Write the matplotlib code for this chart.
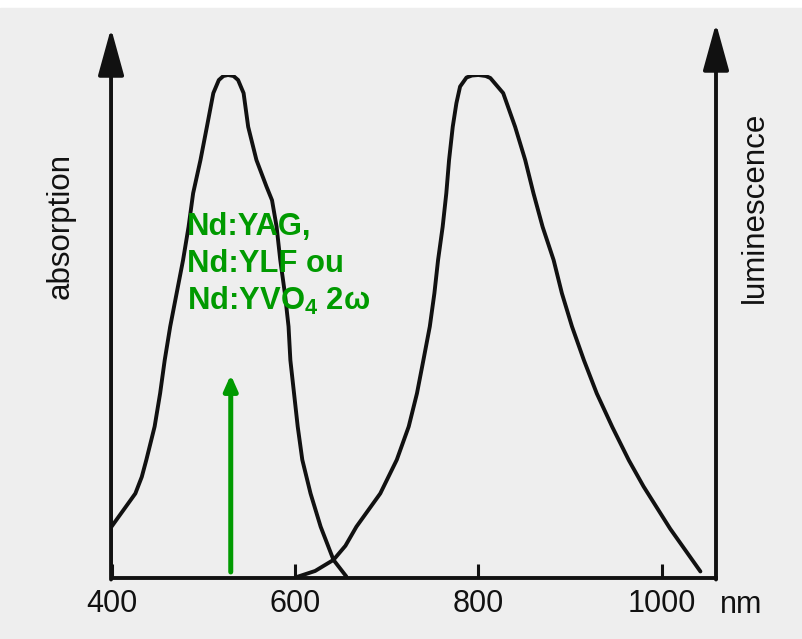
import matplotlib
matplotlib.use("Agg")
import matplotlib.pyplot as plt
from matplotlib.patches import Rectangle

# absorption spectrum (wavelength nm, relative intensity)
abs_wl = [400, 413, 426, 433, 438, 447, 453, 458, 464, 471, 478, 484, 489, 497,
          504, 511, 517, 522, 527, 533, 538, 544, 549, 558, 569, 575, 580, 584,
          589, 593, 595, 599, 603, 608, 617, 628, 642, 656]
abs_val = [0.102, 0.135, 0.168, 0.201, 0.235, 0.301, 0.367, 0.433, 0.500, 0.566,
           0.632, 0.698, 0.765, 0.831, 0.897, 0.964, 0.990, 0.998, 1.0, 0.998,
           0.990, 0.964, 0.897, 0.831, 0.778, 0.751, 0.698, 0.632, 0.566, 0.500,
           0.433, 0.367, 0.301, 0.235, 0.168, 0.102, 0.036, 0.003]

# luminescence spectrum
lum_wl = [602, 622, 642, 655, 667, 693, 711, 724, 733, 740, 747, 752, 756, 761,
          765, 768, 772, 776, 780, 787, 793, 800, 808, 813, 827, 840, 851, 860,
          870, 882, 891, 902, 915, 929, 946, 964, 980, 1009, 1042]
lum_val = [0.002, 0.014, 0.036, 0.064, 0.102, 0.168, 0.235, 0.301, 0.367, 0.433,
           0.500, 0.566, 0.632, 0.698, 0.765, 0.831, 0.897, 0.944, 0.977, 0.995,
           0.999, 1.0, 0.998, 0.994, 0.964, 0.897, 0.831, 0.765, 0.698, 0.632,
           0.566, 0.500, 0.433, 0.367, 0.300, 0.234, 0.182, 0.098, 0.013]

tick_pos = [400, 600, 800, 1000]
tick_labels = ["400", "600", "800", "1000"]

pump_wl = 530
pump_top = 0.404
pump_lines = ["Nd:YAG,", "Nd:YLF ou", "Nd:YVO$_4$ 2ω"]

plt.rcParams['font.family'] = ['Liberation Sans', 'DejaVu Sans']
plt.rcParams['mathtext.fontset'] = 'custom'
plt.rcParams['mathtext.rm'] = 'Liberation Sans:bold'
plt.rcParams['mathtext.it'] = 'Liberation Sans:bold'

fig = plt.figure(figsize=(8.02, 6.39), dpi=100)
fig.patch.set_facecolor('white')
fig.add_artist(Rectangle((0, 0), 1, 1 - 8 / 639, transform=fig.transFigure,
                         color='#eeeeee', zorder=-10))

ax = fig.add_axes([111.5 / 802, (639 - 578) / 639, (716 - 111.5) / 802, (578 - 75) / 639])
ax.set_facecolor('none')
ax.set_xlim(400, 1059)
ax.set_ylim(0, 1)

black = '#111111'
lw = 2.8
ax.plot(abs_wl, abs_val, color=black, lw=lw, solid_joinstyle='round', solid_capstyle='round')
ax.plot(lum_wl, lum_val, color=black, lw=lw, solid_joinstyle='round', solid_capstyle='round')

for s in ['top', 'left', 'right']:
    ax.spines[s].set_visible(False)
ax.spines['bottom'].set_linewidth(lw)
ax.spines['bottom'].set_color(black)

ax.set_yticks([])
ax.set_xticks(tick_pos)
ax.set_xticklabels(tick_labels, fontsize=22)
ax.tick_params(axis='x', direction='in', length=10, width=2.2, color=black, pad=8,
               labelcolor=black)

# vertical axes with arrow heads
arrow_style = dict(arrowstyle='-|>,head_length=29,head_width=8', mutation_scale=1,
                   color=black, lw=lw, shrinkA=0, shrinkB=0)
ax.annotate('', xy=(399.5, 1.093), xytext=(399.5, -0.003), arrowprops=arrow_style,
            annotation_clip=False)
ax.annotate('', xy=(1059, 1.103), xytext=(1059, -0.003), arrowprops=arrow_style,
            annotation_clip=False)

ax.text(353, 0.699, 'absorption', rotation=90, rotation_mode='anchor',
        ha='center', va='baseline', fontsize=22.5, color=black)
ax.text(1110, 0.736, 'luminescence', rotation=90, rotation_mode='anchor',
        ha='center', va='baseline', fontsize=22.5, color=black)
ax.text(1086, -0.0696, 'nm', ha='center', va='baseline', fontsize=22, color=black,
        clip_on=False)

# pump laser arrow and label
green = '#009a00'
ax.annotate('', xy=(pump_wl, pump_top), xytext=(pump_wl, 0.012),
            arrowprops=dict(arrowstyle='-|>,head_length=9,head_width=4',
                            mutation_scale=1, color=green, lw=3.6,
                            shrinkA=0, shrinkB=0))
for i, line in enumerate(pump_lines):
    ax.text(482, 0.682 - i * 0.0745, line, ha='left', va='baseline', fontsize=22.3,
            fontweight='bold', color=green)

fig.savefig('out.png', dpi=100, facecolor=fig.get_facecolor())
